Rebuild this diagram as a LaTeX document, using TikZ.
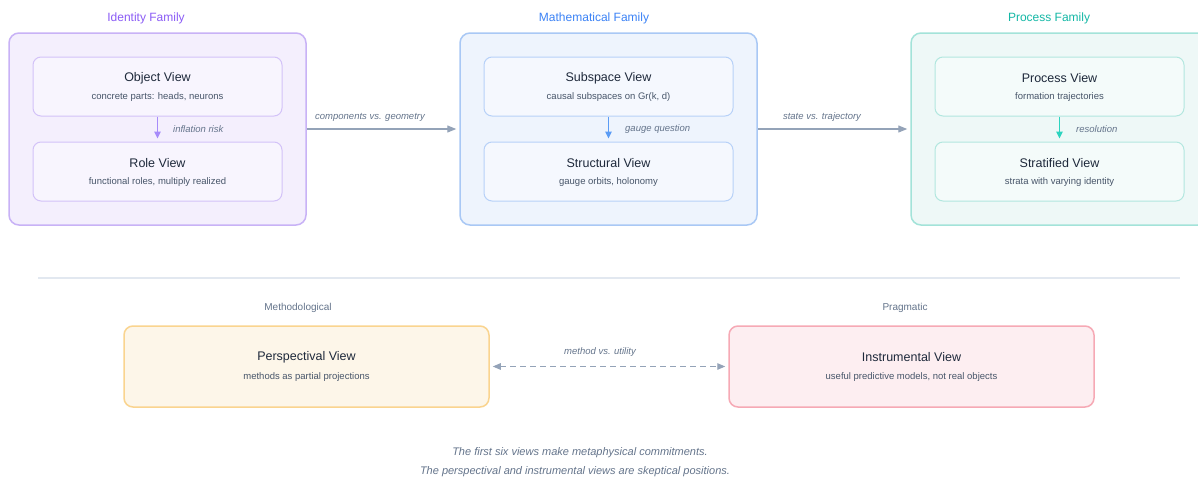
\documentclass[tikz,border=0pt]{standalone}
\usepackage{fontspec}
\setmainfont{Liberation Sans}
\usetikzlibrary{arrows.meta}
\definecolor{purT}{HTML}{8B5CF6}
\definecolor{purB}{HTML}{C8B2F6}
\definecolor{purF}{HTML}{F4EFFD}
\definecolor{purIF}{HTML}{F8F5FE}
\definecolor{purIB}{HTML}{D3C2F8}
\definecolor{purA}{HTML}{A78BFA}
\definecolor{bluT}{HTML}{3B82F6}
\definecolor{bluB}{HTML}{A9C8F5}
\definecolor{bluF}{HTML}{EEF4FD}
\definecolor{bluIF}{HTML}{F5F8FE}
\definecolor{bluIB}{HTML}{B7D1F8}
\definecolor{bluA}{HTML}{5B9CF5}
\definecolor{teaT}{HTML}{14B8A6}
\definecolor{teaB}{HTML}{A3E3D9}
\definecolor{teaF}{HTML}{EEF8F7}
\definecolor{teaIF}{HTML}{F4FBFA}
\definecolor{teaIB}{HTML}{B2E7DF}
\definecolor{teaA}{HTML}{2DD4BF}
\definecolor{oraF}{HTML}{FDF6E9}
\definecolor{oraB}{HTML}{FAD48F}
\definecolor{pnkF}{HTML}{FDEEF1}
\definecolor{pnkB}{HTML}{F6A9B5}
\definecolor{grA}{HTML}{94A3B8}
\definecolor{txD}{HTML}{1E293B}
\definecolor{txS}{HTML}{475569}
\definecolor{txL}{HTML}{64748B}
\definecolor{sepC}{HTML}{E2E8F0}
\tikzset{
  fambox/.style={draw, line width=1.5pt, rounded corners=10pt, inner sep=0pt},
  viewbox/.style={draw, line width=1pt, rounded corners=8pt, inner sep=0pt, minimum width=249pt, minimum height=59pt},
  skbox/.style={draw, line width=1.5pt, rounded corners=9pt, inner sep=0pt, minimum width=365pt, minimum height=81pt},
  famtitle/.style={font=\fontsize{12}{14}\selectfont, inner sep=0pt},
  vtitle/.style={font=\fontsize{12.5}{14}\selectfont, text=txD, inner sep=0pt},
  vsub/.style={font=\fontsize{9.5}{11}\selectfont, text=txS, inner sep=0pt},
  elabel/.style={font=\fontsize{9.5}{11}\selectfont\itshape, text=txL, inner sep=0pt},
  grouplabel/.style={font=\fontsize{10}{12}\selectfont, text=txL, inner sep=0pt},
  inarrow/.style={line width=1.2pt, -{Triangle[length=7pt,width=6.5pt]}},
  grarrow/.style={draw=grA, line width=1.2pt, -{Triangle[length=9pt,width=7pt]}, color=grA},
}
\begin{document}
\begin{tikzpicture}[x=1pt,y=-1pt]
\useasboundingbox[fill=white] (0,0) rectangle (1198,477);
\clip (0,0) rectangle (1198,477);

% ---------- Identity family ----------
\node[famtitle, text=purT] (tid) at (146,18.5) {Identity Family};
\node[fambox, draw=purB, fill=purF, minimum width=297pt, minimum height=192pt] (fid) at (157.5,129) {};
\node[viewbox, draw=purIB, fill=purIF] (obj) at (157.5,86.5) {};
\node[vtitle] (objt) at (157.5,78.5) {Object View};
\node[vsub] (objs) at (157.5,97) {concrete parts: heads, neurons};
\node[viewbox, draw=purIB, fill=purIF] (role) at (157.5,171.5) {};
\node[vtitle] (rolet) at (157.5,163.5) {Role View};
\node[vsub] (roles) at (157.5,182) {functional roles, multiply realized};
\draw[inarrow, draw=purA, color=purA, shorten >=3pt] (obj.south) -- (role.north);
\node[elabel, anchor=west] (l1) at (173,129) {inflation risk};

% ---------- Mathematical family ----------
\node[famtitle, text=bluT] (tma) at (594,18.5) {Mathematical Family};
\node[fambox, draw=bluB, fill=bluF, minimum width=297pt, minimum height=192pt] (fma) at (608.5,129) {};
\node[viewbox, draw=bluIB, fill=bluIF] (sub) at (608.5,86.5) {};
\node[vtitle] (subt) at (608.5,78.5) {Subspace View};
\node[vsub] (subs) at (608.5,97) {causal subspaces on Gr(k, d)};
\node[viewbox, draw=bluIB, fill=bluIF] (str) at (608.5,171.5) {};
\node[vtitle] (strt) at (608.5,163.5) {Structural View};
\node[vsub] (strs) at (608.5,182) {gauge orbits, holonomy};
\draw[inarrow, draw=bluA, color=bluA, shorten >=3pt] (sub.south) -- (str.north);
\node[elabel, anchor=west] (l2) at (625,129) {gauge question};

% ---------- Process family ----------
\node[famtitle, text=teaT] (tpr) at (1049,18.5) {Process Family};
\node[fambox, draw=teaB, fill=teaF, minimum width=297pt, minimum height=192pt] (fpr) at (1059.5,129) {};
\node[viewbox, draw=teaIB, fill=teaIF] (proc) at (1059.5,86.5) {};
\node[vtitle] (proct) at (1059.5,78.5) {Process View};
\node[vsub] (procs) at (1059.5,97) {formation trajectories};
\node[viewbox, draw=teaIB, fill=teaIF] (strat) at (1059.5,171.5) {};
\node[vtitle] (stratt) at (1059.5,163.5) {Stratified View};
\node[vsub] (strats) at (1059.5,182) {strata with varying identity};
\draw[inarrow, draw=teaA, color=teaA, shorten >=3pt] (proc.south) -- (strat.north);
\node[elabel, anchor=west] (l3) at (1076,129) {resolution};

% ---------- family connectors ----------
\draw[grarrow, shorten >=3pt] (fid.east) -- (fma.west);
\node[elabel] (l4) at (370,117.5) {components vs. geometry};
\draw[grarrow, shorten >=3pt] (fma.east) -- (fpr.west);
\node[elabel] (l5) at (822,117.5) {state vs. trajectory};

% ---------- separator ----------
\coordinate (s1) at (38,278);
\coordinate (s2) at (1180,278);
\draw[sepC, line width=1.2pt] (s1) -- (s2);

% ---------- skeptical views ----------
\node[grouplabel] (gm) at (298,307.5) {Methodological};
\node[grouplabel] (gp) at (905,307.5) {Pragmatic};
\node[skbox, draw=oraB, fill=oraF] (persp) at (306.5,366.5) {};
\node[vtitle] (perspt) at (306.5,357) {Perspectival View};
\node[vsub] (persps) at (306.5,377.5) {methods as partial projections};
\node[skbox, draw=pnkB, fill=pnkF] (instr) at (911.5,366.5) {};
\node[vtitle] (instrt) at (911.5,357) {Instrumental View};
\node[vsub] (instrs) at (911.5,377.5) {useful predictive models, not real objects};
\draw[draw=grA, line width=1.2pt, dash pattern=on 6pt off 4pt, {Triangle[length=8pt,width=6.5pt]}-{Triangle[length=8pt,width=6.5pt]}, color=grA, shorten <=3pt, shorten >=3pt] (persp.east) -- (instr.west);
\node[elabel] (l6) at (600,352.5) {method vs. utility};

% ---------- footer ----------
\node[elabel, font=\fontsize{11}{13}\selectfont\itshape] (f1) at (580,452.5) {The first six views make metaphysical commitments.};
\node[elabel, font=\fontsize{11}{13}\selectfont\itshape] (f2) at (575,471.5) {The perspectival and instrumental views are skeptical positions.};
\end{tikzpicture}
\end{document}
